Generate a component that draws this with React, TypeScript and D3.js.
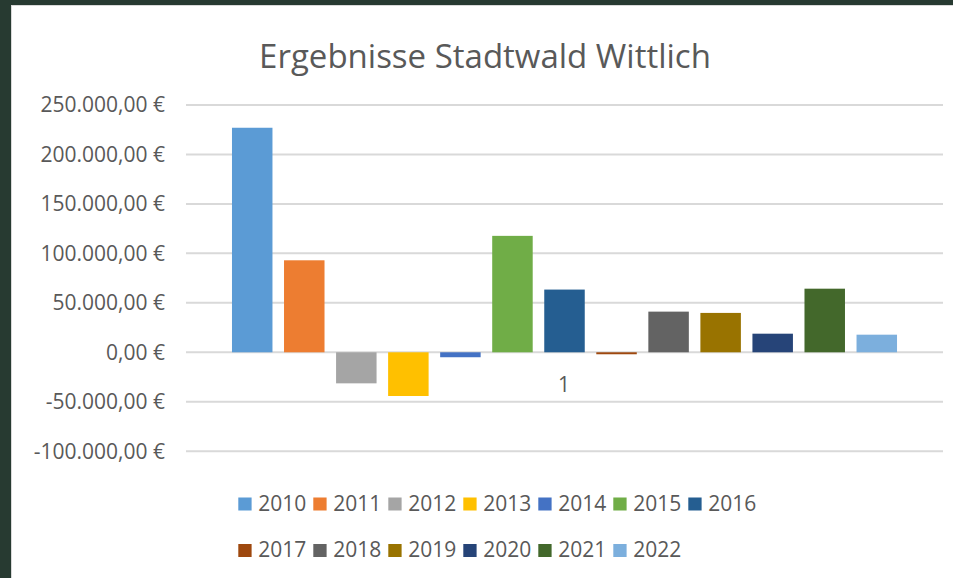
import React from "react";
import * as d3 from "d3";

const years = ["2010","2011","2012","2013","2014","2015","2016","2017","2018","2019","2020","2021","2022"];
const values = [227000, 93000, -31400, -44200, -5000, 117700, 63400, -2000, 41100, 39800, 18800, 64300, 17800];
const colors = ["#5B9BD5","#ED7D31","#A5A5A5","#FFC000","#4472C4","#70AD47","#255E91","#9E480E","#636363","#997300","#264478","#43682B","#7CAFDD"];
const yTicks = [-100000, -50000, 0, 50000, 100000, 150000, 200000, 250000];
const categoryLabel = "1";
const title = "Ergebnisse Stadtwald Wittlich";

const W = 953, H = 578;
const FONT = "'Open Sans', 'Noto Sans', sans-serif";

const fmt = (v: number) => {
  const s = d3.format(",.2f")(v);
  return s.replace(/,/g, "#").replace(".", ",").replace(/#/g, ".").replace("−", "-") + " €";
};

export default function App() {
  const y = d3.scaleLinear().domain([-100000, 250000]).range([451.2, 105]);
  const x = d3.scaleBand().domain(years).range([226.2, 902.8]).paddingInner(0.222).paddingOuter(0.111);
  const gridX0 = 186, gridX1 = 943;
  const legendRows = [years.slice(0, 7), years.slice(7)];
  const lx = (i: number) => 238.3 + i * 75;
  const legendY = [504, 550.5];

  return (
    <svg width={W} height={H} style={{ position: "absolute", left: 0, top: 0 }} fontFamily={FONT}>
      <rect x={0} y={0} width={W} height={H} fill="#273a31" />
      <rect x={11.5} y={5.5} width={W} height={H} fill="#ffffff" stroke="#d9d9d9" strokeWidth={1} />
      <text x={485} y={68} textAnchor="middle" fontSize={33} fill="#595959">{title}</text>
      {yTicks.map((t) => (
        <g key={t}>
          <line x1={gridX0} x2={gridX1} y1={y(t)} y2={y(t)} stroke="#d9d9d9" strokeWidth={2} />
          <text x={165} y={y(t)} dy="0.35em" textAnchor="end" fontSize={21} fill="#595959">{fmt(t)}</text>
        </g>
      ))}
      {years.map((yr, i) => {
        const v = values[i];
        const y0 = y(Math.max(0, v));
        const y1 = y(Math.min(0, v));
        return <rect key={yr} x={x(yr)} y={y0} width={x.bandwidth()} height={Math.max(1, y1 - y0)} fill={colors[i]} />;
      })}
      <text x={564} y={391.5} textAnchor="middle" fontSize={21} fill="#595959">{categoryLabel}</text>
      {legendRows.map((row, r) =>
        row.map((yr, i) => {
          const idx = years.indexOf(yr);
          return (
            <g key={yr}>
              <rect x={lx(i)} y={legendY[r] - 6.5} width={13.3} height={13} fill={colors[idx]} />
              <text x={lx(i) + 20} y={legendY[r] - 0.8} dy="0.35em" fontSize={21} fill="#595959">{yr}</text>
            </g>
          );
        })
      )}
    </svg>
  );
}
